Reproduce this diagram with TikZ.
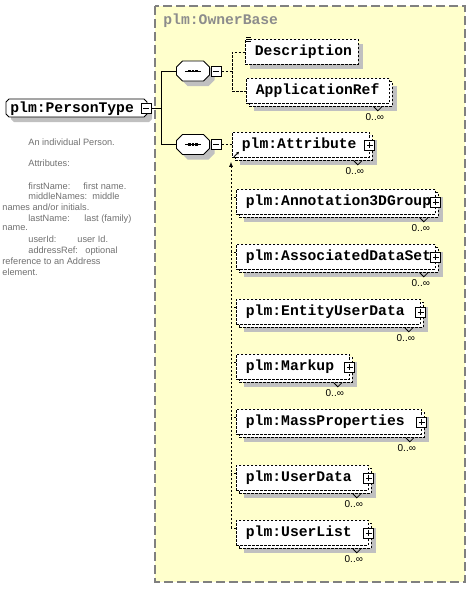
\documentclass[tikz,border=0pt]{standalone}
\usepackage{fontspec}
\setmainfont{Liberation Sans}
\newfontfamily\elemfont{Liberation Mono}
\usetikzlibrary{positioning,calc,shadows,arrows.meta}

\definecolor{groupfill}{HTML}{FFFFCC}
\definecolor{groupline}{HTML}{808080}
\definecolor{grouptext}{HTML}{8C8C8C}
\definecolor{shadowgray}{HTML}{C0C0C0}
\definecolor{doctext}{HTML}{707070}

% outline with cut corners: x1, y1, x2, y2, cut
\newcommand{\chamferpath}[5]{(#1+#5,#2) -- (#3-#5,#2) -- (#3,#2+#5) -- (#3,#4-#5) -- (#3-#5,#4)
  -- (#1+#5,#4) -- (#1,#4-#5) -- (#1,#2+#5) -- cycle}

\begin{document}
\begin{tikzpicture}[x=1pt, y=-1pt, line width=0.8pt,
    elem/.style={draw, fill=white, dash pattern=on 2.5pt off 1.5pt, anchor=north west,
      minimum height=25pt, inner xsep=9.5pt, inner ysep=0pt, align=left,
      font=\elemfont\bfseries\fontsize{14.7}{16}\selectfont},
    shadowed/.style={general shadow={shadow xshift=5pt, shadow yshift=-5pt, fill=shadowgray}},
    repeated/.style={general shadow={shadow xshift=8pt, shadow yshift=-8pt, fill=shadowgray},
      general shadow={shadow xshift=3pt, shadow yshift=-3pt, draw=black, fill=white}},
    ptypebox/.style={anchor=north west, inner xsep=4pt, inner ysep=0pt, minimum height=18pt, align=left,
      font=\elemfont\bfseries\fontsize{14.7}{16}\selectfont},
    seqbox/.style={minimum width=33pt, minimum height=20pt, inner sep=0pt},
    minbox/.style={draw, fill=white, solid, minimum size=10pt, inner sep=0pt,
      path picture={\draw ([xshift=2pt]path picture bounding box.west) -- ([xshift=-2pt]path picture bounding box.east);}},
    plusbox/.style={draw, fill=white, solid, minimum size=10pt, inner sep=0pt,
      path picture={\draw ([xshift=2pt]path picture bounding box.west) -- ([xshift=-2pt]path picture bounding box.east)
        ([yshift=-2pt]path picture bounding box.north) -- ([yshift=2pt]path picture bounding box.south);}},
    link/.style={dash pattern=on 2.5pt off 1.5pt},
    card/.style={font=\fontsize{10}{12}\selectfont, inner sep=0pt},
    doc/.style={text=doctext, font=\fontsize{9.2}{11}\selectfont, anchor=base west, inner sep=0pt}]

    \useasboundingbox (0,0) rectangle (471,589);

    % Base type area
    \draw[groupline, fill=groupfill, line width=1.3pt, dash pattern=on 9pt off 4pt] (155,6) rectangle (465,582);
    \node[text=grouptext, font=\elemfont\bfseries\fontsize{14.7}{16}\selectfont, anchor=base west, inner sep=0pt]
        (ownerbase) at (163,24.5) {plm:OwnerBase};

    % Complex type
    \fill[shadowgray, shift={(5,5)}] \chamferpath{6}{99}{147}{117}{3};
    \draw[fill=white] \chamferpath{6}{99}{147}{117}{3};
    \node[ptypebox, text width=133pt] (ptype) at (6,99) {plm:PersonType};
    \node[minbox] (pmin) at ([xshift=-1.5pt]ptype.east) {};

    % The two sequences
    \foreach \y in {71,144.5}{
      \fill[shadowgray, shift={(5,5)}] \chamferpath{176.5}{\y-10}{209.5}{\y+10}{6};
      \draw[fill=white] \chamferpath{176.5}{\y-10}{209.5}{\y+10}{6};
    }
    \node[seqbox] (seq1) at (193,71) {};
    \node[seqbox] (seq2) at (193,144.5) {};
    \foreach \s in {seq1,seq2}{
      \draw ([xshift=-8pt]\s.center) -- ([xshift=8pt]\s.center);
      \foreach \dx in {-3.5,0,3.5}
        \fill ([xshift=\dx pt]\s.center) +(-1.4,-1.4) rectangle +(1.4,1.4);
    }
    \node[minbox, right=1pt of seq1] (s1min) {};
    \node[minbox, right=1pt of seq2] (s2min) {};

    % Elements of the first sequence
    \node[elem, shadowed, text width=94pt] (desc) at (245,39) {Description};
    \draw[line width=0.6pt] ($(desc.north west)+(1,-2)$) -- ++(5,0)
        ($(desc.north west)+(1,0)$) -- ++(5,0) ($(desc.north west)+(1,2)$) -- ++(5,0);
    \node[elem, repeated, text width=124pt] (appref) at (246,78) {ApplicationRef};
    \draw ($(appref.south east)+(-16,3)$) -- ++(4,4) -- ++(4,-4);
    \node[card] (appref-card) at ($(appref.south east)+(-15,13)$) {0..∞};

    % Head of the substitution group
    \node[elem, repeated, text width=118pt] (attr) at (232,132) {plm:Attribute};
    \node[plusbox] (attr-plus) at (attr.east) {};
    \draw ($(attr.south east)+(-16,3)$) -- ++(4,4) -- ++(4,-4);
    \node[card] (attr-card) at ($(attr.south east)+(-15,13)$) {0..∞};
    \draw[-{Stealth[length=3pt,width=3pt]}] ($(attr.south west)+(2,-1)$) -- ++(5,-5);

    % Members of the substitution group
    \foreach \name/\ypos/\tw/\txt in {annot/189/180/Annotation3DGroup, assoc/244/180/AssociatedDataSet,
        entity/299/165/EntityUserData, markup/354/94/Markup, mass/409/166/MassProperties,
        udata/465/113/UserData, ulist/520/113/UserList}{
      \node[elem, repeated, text width=\tw pt] (\name) at (236,\ypos) {plm:\txt};
      \node[plusbox] (\name-plus) at (\name.east) {};
      \draw ($(\name.south east)+(-16,3)$) -- ++(4,4) -- ++(4,-4);
      \node[card] (\name-card) at ($(\name.south east)+(-15,13)$) {0..∞};
      \draw[link] ($(\name.north west)+(0,8)$) -- ++(-5,0);
    }

    % Connectors
    \coordinate (fork1) at ($(pmin.east)+(10,0)$);
    \draw (pmin.east) -- (fork1) |- (seq1.west);
    \draw (fork1) |- (seq2.west);
    \coordinate (fork2) at ($(s1min.east)+(10.5,0)$);
    \draw[link] (s1min.east) -- (fork2) |- (desc.west);
    \draw[link] (fork2) |- (appref.west);
    \draw[link] (s2min.east) -- (s2min.east -| attr.west);
    \coordinate (sgtop) at ($(attr.south west)+(-1,4)$);
    \coordinate (sgbot) at ($(ulist.north west)+(-5,8)$);
    \draw[link, -{Latex[length=5pt,width=4pt]}] (sgbot) -- (sgtop);

    % Documentation
    \node[doc] (doc1) at (28,145) {An individual Person.};
    \node[doc] (doc2) at (28,166.5) {Attributes:};
    \node[doc] (doc3) at (28,189.5) {firstName:};
    \node[doc] (doc3b) at (83,189.5) {first name.};
    \node[doc] (doc4) at (28,199.5) {middleNames:};
    \node[doc] (doc4b) at (92,199.5) {middle};
    \node[doc] (doc5) at (2,210.2) {names and/or initials.};
    \node[doc] (doc6) at (28,221.2) {lastName:};
    \node[doc] (doc6b) at (84,221.2) {last (family)};
    \node[doc] (doc7) at (2,230.8) {name.};
    \node[doc] (doc8) at (28,242.8) {userId:};
    \node[doc] (doc8b) at (77,242.8) {user Id.};
    \node[doc] (doc9) at (28,253.5) {addressRef:};
    \node[doc] (doc9b) at (85,253.5) {optional};
    \node[doc] (doc10) at (2,264.5) {reference to an Address};
    \node[doc] (doc11) at (2,275.2) {element.};
\end{tikzpicture}
\end{document}
